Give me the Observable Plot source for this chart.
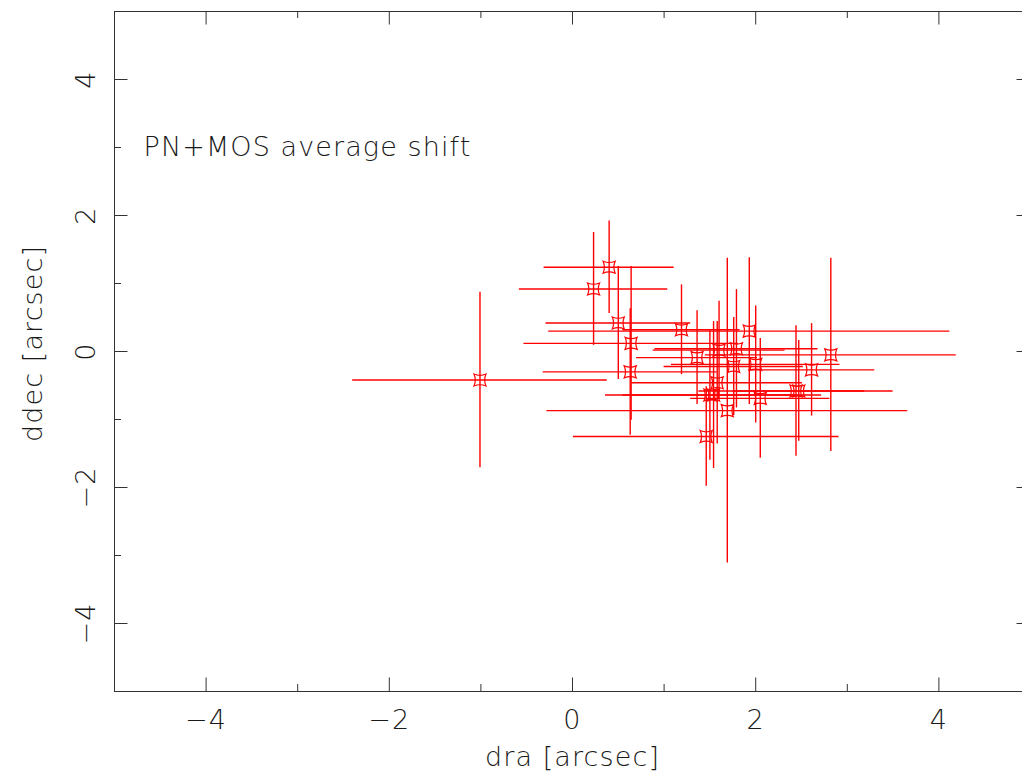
<!DOCTYPE html>
<html><head><meta charset="utf-8">
<script src="https://cdn.jsdelivr.net/npm/d3@7"></script>
<script src="https://cdn.jsdelivr.net/npm/@observablehq/plot@0.6"></script>
<style>
html,body{margin:0;padding:0;background:#fff;overflow:hidden;width:1022px;height:771px}
#chart svg{display:block;max-width:none !important}
</style>
</head><body><div id="chart"></div>
<script>
// ---- data ----
const dra     = [-1.01, 0.40, 0.23, 0.50, 0.64, 0.63, 1.19, 1.36, 1.60, 1.79, 1.93, 1.76, 2.00, 2.61, 2.82, 1.58, 1.50, 1.54, 2.05, 2.44, 2.47, 1.69, 1.46];
const ddec    = [-0.42, 1.24, 0.92, 0.42, 0.12, -0.30, 0.32, -0.09, 0.02, 0.04, 0.30, -0.22, -0.19, -0.27, -0.05, -0.46, -0.64, -0.64, -0.69, -0.58, -0.58, -0.87, -1.25];
const draErr  = [1.39, 0.71, 0.81, 0.79, 1.17, 0.95, 0.64, 0.66, 0.72, 0.89, 2.19, 0.76, 0.92, 0.69, 1.37, 0.93, 0.95, 1.18, 0.76, 1.06, 0.72, 1.97, 1.45];
const ddecErr = [1.29, 0.68, 0.83, 0.83, 1.13, 0.93, 0.66, 0.69, 0.72, 0.87, 1.08, 0.72, 0.86, 0.68, 1.42, 0.90, 0.96, 1.08, 0.88, 0.96, 0.74, 2.24, 0.73];
const majorTicks = [-4, -2, 0, 2, 4];
const minorTicks = [-3, -1, 1, 3];
const xDomain = [-5, 5];
const yDomain = [-5, 5];
const title  = "PN+MOS average shift";
const xLabel = "dra [arcsec]";
const yLabel = "ddec [arcsec]";

// ---- layout ----
const W = 1040, H = 771, ML = 114, MR = 10, MT = 11, MB = 80;
const pxX = (xDomain[1] - xDomain[0]) / (W - ML - MR);
const pxY = (yDomain[1] - yDomain[0]) / (H - MT - MB);
const MAJ = 13.5, MIN = 7;
const FONT = "'DejaVu Sans', sans-serif";
const INK = "#1a1a1a";
const AX = "#333";
const RED = "#ff0000";

const pts = dra.map((x, i) => ({x, y: ddec[i], ex: draErr[i], ey: ddecErr[i]}));
const fmt = d => d < 0 ? "\u2212" + Math.abs(d) : String(d);

const marker = {
  draw(ctx) {
    const s = 6, c = 3.4;
    ctx.moveTo(-s, -s);
    ctx.quadraticCurveTo(0, -c, s, -s);
    ctx.quadraticCurveTo(c, 0, s, s);
    ctx.quadraticCurveTo(0, c, -s, s);
    ctx.quadraticCurveTo(-c, 0, -s, -s);
    ctx.closePath();
  }
};

function ticksX(arr, len) {
  return [
    Plot.ruleX(arr, {x: d => d, y1: yDomain[0], y2: yDomain[0] + len * pxY, stroke: AX}),
    Plot.ruleX(arr, {x: d => d, y1: yDomain[1], y2: yDomain[1] - len * pxY, stroke: AX})
  ];
}
function ticksY(arr, len) {
  return [
    Plot.ruleY(arr, {y: d => d, x1: xDomain[0], x2: xDomain[0] + len * pxX, stroke: AX}),
    Plot.ruleY(arr, {y: d => d, x1: xDomain[1], x2: xDomain[1] - len * pxX, stroke: AX})
  ];
}

const txt = {fontSize: 27, fill: INK, fontWeight: 200};

const chart = Plot.plot({
  width: W, height: H,
  marginLeft: ML, marginRight: MR, marginTop: MT, marginBottom: MB,
  x: {domain: xDomain, axis: null},
  y: {domain: yDomain, axis: null},
  style: {fontFamily: FONT, background: "#fff", overflow: "visible", maxWidth: "none", letterSpacing: "1.1px"},
  marks: [
    Plot.frame({stroke: AX}),
    ...ticksX(majorTicks, MAJ), ...ticksX(minorTicks, MIN),
    ...ticksY(majorTicks, MAJ), ...ticksY(minorTicks, MIN),
    Plot.text(majorTicks, {x: d => d, y: yDomain[0], text: fmt, dy: 37, lineAnchor: "bottom", textAnchor: "middle", ...txt}),
    Plot.text(majorTicks, {x: xDomain[0], y: d => d, text: fmt, dx: -20, rotate: -90, lineAnchor: "bottom", textAnchor: "middle", ...txt}),
    Plot.text([xLabel], {frameAnchor: "bottom", dy: 74, lineAnchor: "bottom", textAnchor: "middle", ...txt}),
    Plot.text([yLabel], {frameAnchor: "left", dx: -73, dy: -8, rotate: -90, lineAnchor: "bottom", textAnchor: "middle", ...txt}),
    Plot.text([title], {frameAnchor: "top-left", dx: 29, dy: 144, lineAnchor: "bottom", textAnchor: "start", ...txt}),
    Plot.ruleY(pts, {y: "y", x1: d => d.x - d.ex, x2: d => d.x + d.ex, stroke: RED, strokeWidth: 1.4}),
    Plot.ruleX(pts, {x: "x", y1: d => d.y - d.ey, y2: d => d.y + d.ey, stroke: RED, strokeWidth: 1.4}),
    Plot.dot(pts, {x: "x", y: "y", symbol: marker, r: 6, stroke: RED, fill: "none", strokeWidth: 1.2})
  ]
});
document.getElementById("chart").append(chart);
</script>
</body></html>
